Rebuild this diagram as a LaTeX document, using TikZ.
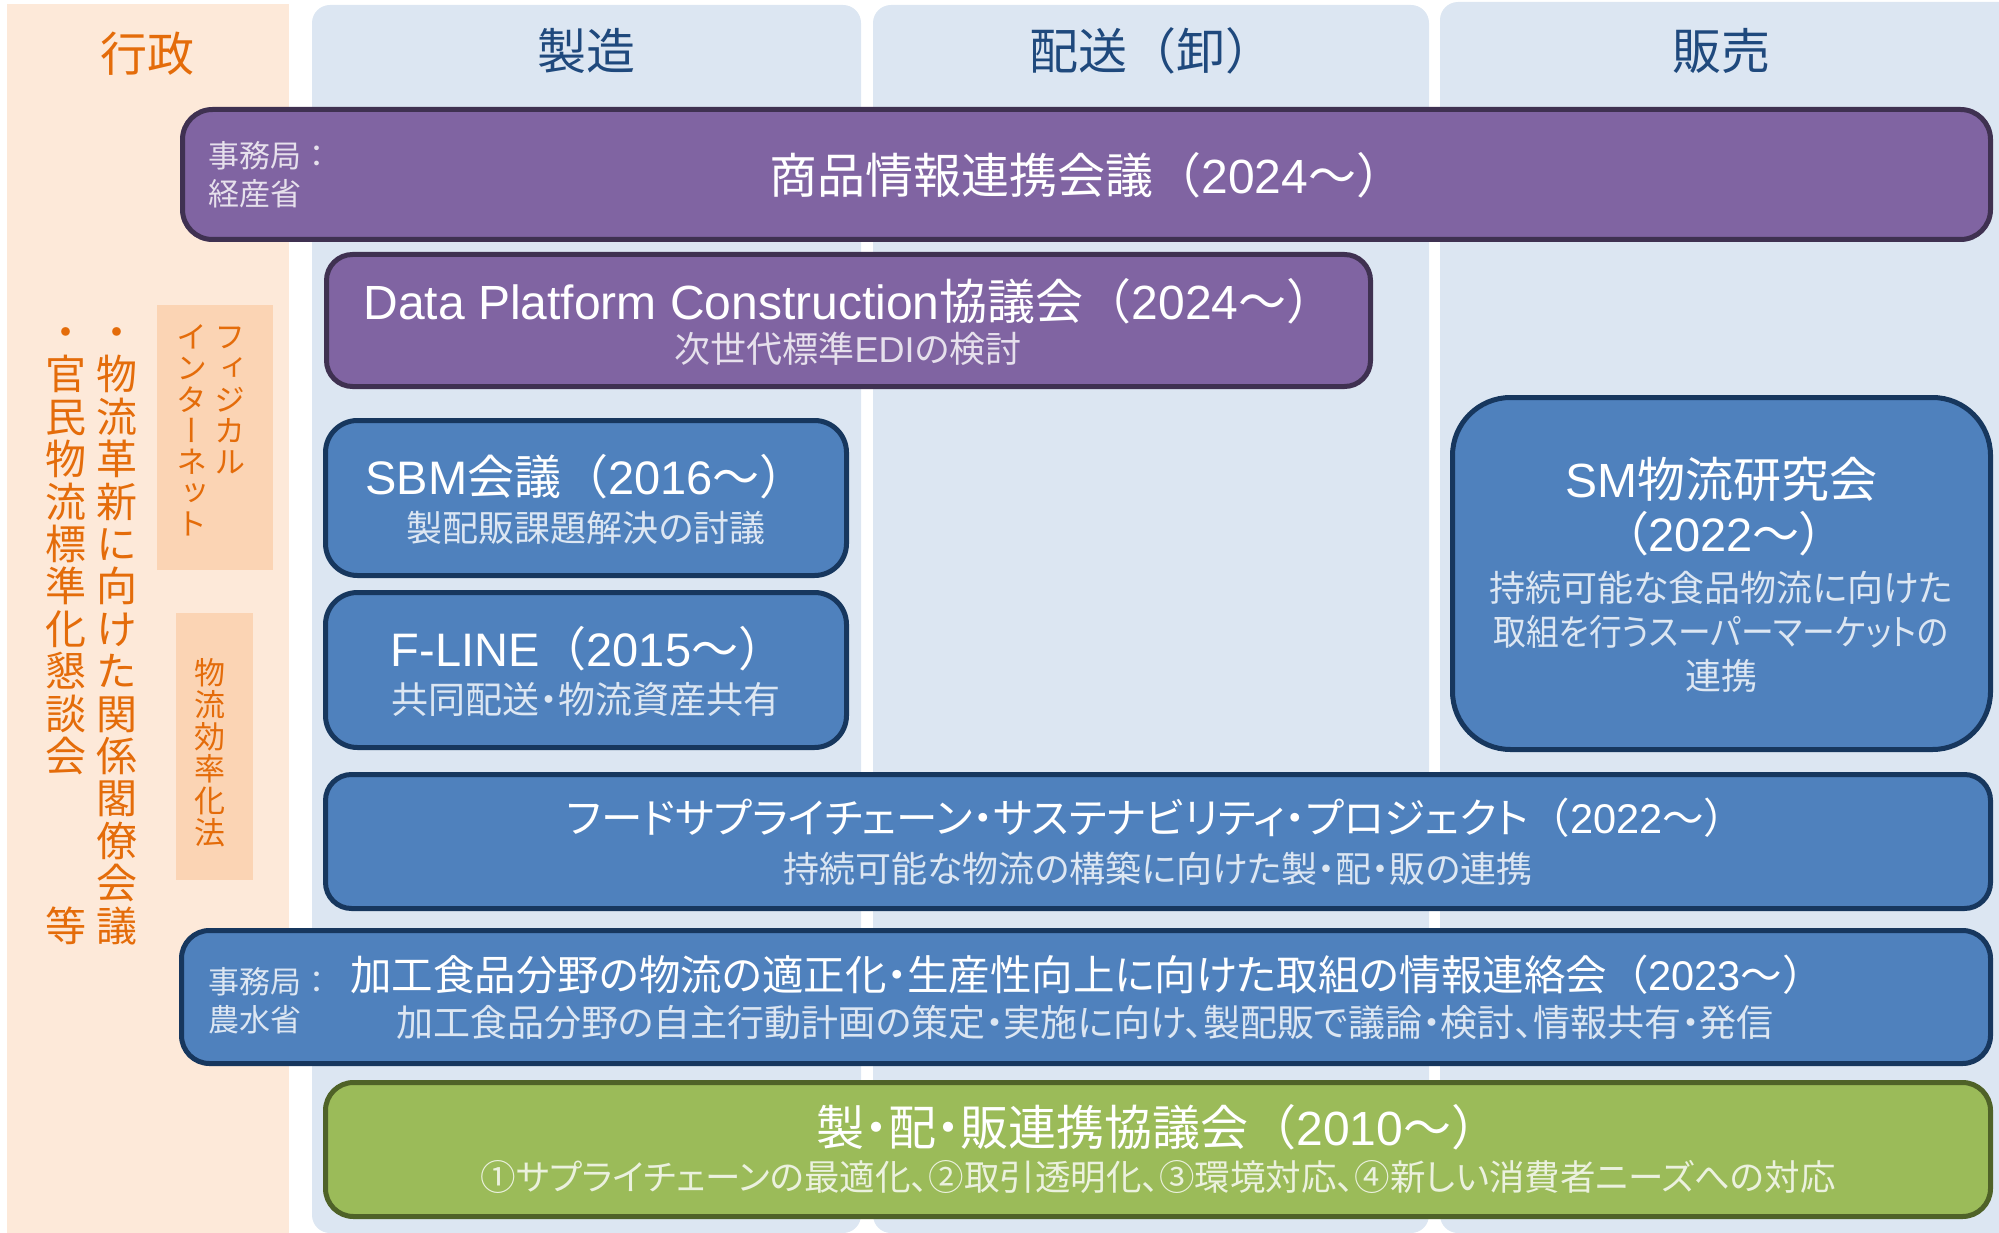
\documentclass[tikz,border=0pt]{standalone}
\usepackage{fontspec}
\usepackage{graphicx}
\setmainfont[RawFeature=+palt]{Noto Sans CJK JP}
\newfontfamily\cjkn{Noto Sans CJK JP}
\newfontfamily\cjkv[RawFeature=+vert]{Noto Sans CJK JP}
\newfontfamily\lat{Liberation Sans}
\newcommand\yrs[1]{{\cjkn （{\lat #1}～）}}
\newcommand\cjkstrut{\rule[-0.12em]{0pt}{1em}}
\definecolor{admbg}{HTML}{FDE9D9}
\definecolor{admbox}{HTML}{FBD4B4}
\definecolor{admtxt}{HTML}{E46C0A}
\definecolor{colbg}{HTML}{DCE6F2}
\definecolor{hdrtxt}{HTML}{1F497D}
\definecolor{purfill}{HTML}{8064A2}
\definecolor{purline}{HTML}{3F3151}
\definecolor{bluefill}{HTML}{4F81BD}
\definecolor{blueline}{HTML}{17375E}
\definecolor{grnfill}{HTML}{9BBB59}
\definecolor{grnline}{HTML}{4F6228}
\definecolor{pursub}{HTML}{E6E0EC}
\definecolor{bluesub}{HTML}{DCE6F2}
\definecolor{grnsub}{HTML}{EBF1DE}
\begin{document}
\begin{tikzpicture}[x=1pt,y=-1pt,
  evt/.style={draw, line width=5pt, inner sep=0pt},
  pur/.style={evt, fill=purfill, draw=purline},
  blu/.style={evt, fill=bluefill, draw=blueline},
  grn/.style={evt, fill=grnfill, draw=grnline},
  txt/.style={inner sep=0pt, execute at begin node=\cjkstrut},
  ttl/.style={txt, text=white, font=\fontsize{48}{52}\selectfont},
  sub/.style={txt, font=\fontsize{36}{40}\selectfont},
  adm/.style={txt, anchor=west, font=\cjkn\fontsize{31}{34}\selectfont},
  hdr/.style={txt, text=hdrtxt, font=\fontsize{49}{52}\selectfont},
  vbig/.style={txt, text=admtxt, font=\cjkv\fontsize{41}{44}\selectfont},
  vsmall/.style={txt, text=admtxt, font=\cjkv\fontsize{31}{34}\selectfont},
  colpanel/.style={fill=colbg, rounded corners=18pt},
]
\useasboundingbox (0,0) rectangle (1999,1233);
% backgrounds
\fill[admbg] (7,4) rectangle (289,1233);
\fill[colpanel] (312,5) rectangle (861,1233);
\fill[colpanel] (873,5) rectangle (1429,1233);
\fill[colpanel] (1440,2) rectangle (2020,1233);
\fill[admbox] (157,305) rectangle (273,570);
\fill[admbox] (176,613) rectangle (253,880);
% headers
\node[hdr, text=admtxt, font=\fontsize{47}{50}\selectfont] (h0) at (147,54) {行政};
\node[hdr] (h1) at (586,51) {製造};
\node[hdr] (h2) at (1152,51) {配送{\cjkn （}卸{\cjkn ）}};
\node[hdr] (h3) at (1721,51) {販売};
% vertical texts
\foreach \c [count=\i from 0] in {・,物,流,革,新,に,向,け,た,関,係,閣,僚,会,議}
  \node[vbig] (va-\i) at (117,332+\i*42.4) {\c};
\foreach \c [count=\i from 0] in {・,官,民,物,流,標,準,化,懇,談,会}
  \node[vbig] (vb-\i) at (66,332+\i*42.4) {\c};
\node[vbig] (vb-14) at (66,332+14*42.4) {等};
\foreach \c [count=\i from 0] in {フ,ィ,ジ,カ,ル}
  \node[vsmall] (vc-\i) at (230,337+\i*31.2) {\c};
\foreach \c [count=\i from 0] in {イ,ン,タ,ー,ネ,ッ,ト}
  \node[vsmall] (vd-\i) at (192,337+\i*31.2) {\c};
\foreach \c [count=\i from 0] in {物,流,効,率,化,法}
  \node[vsmall] (ve-\i) at (210,673+\i*32) {\c};
% boxes
\node[pur, rounded corners=30pt, minimum width=1808pt, minimum height=130pt] (b1) at (1086.5,174.5) {};
\node[pur, rounded corners=26pt, minimum width=1044pt, minimum height=132pt] (b2) at (848.5,320.5) {};
\node[blu, rounded corners=32pt, minimum width=521pt, minimum height=155pt] (b3) at (586,498) {};
\node[blu, rounded corners=32pt, minimum width=521pt, minimum height=155pt] (b4) at (586,670) {};
\node[blu, rounded corners=58pt, minimum width=538pt, minimum height=352pt] (b5) at (1721.5,573.5) {};
\node[blu, rounded corners=26pt, minimum width=1665pt, minimum height=134pt] (b6) at (1158,841.5) {};
\node[blu, rounded corners=28pt, minimum width=1809pt, minimum height=133pt] (b7) at (1086,997) {};
\node[grn, rounded corners=28pt, minimum width=1665pt, minimum height=134pt] (b8) at (1158,1149.5) {};
% box texts
\node[adm, text=pursub] (b1a) at (208,156) {事務局：};
\node[adm, text=pursub] (b1b) at (208,194) {経産省};
\node[ttl] (b1t) at (1087,175) {商品情報連携会議\yrs{2024}};
\node[ttl] (b2t) at (849,301) {{\lat Data Platform Construction}協議会\yrs{2024}};
\node[sub, text=pursub] (b2s) at (848,349) {次世代標準{\lat EDI}の検討};
\node[ttl, font=\fontsize{47}{52}\selectfont] (b3t) at (586,477) {{\lat SBM}会議\yrs{2016}};
\node[sub, text=bluesub] (b3s) at (586,528) {製配販課題解決の討議};
\node[ttl, font=\fontsize{47}{52}\selectfont] (b4t) at (588,649) {{\lat F-LINE}\yrs{2015}};
\node[sub, text=bluesub, font=\fontsize{37}{40}\selectfont] (b4s) at (586,699) {共同配送・物流資産共有};
\node[ttl] (b5t) at (1721,479) {{\lat SM}物流研究会};
\node[ttl, font=\fontsize{47}{52}\selectfont] (b5y) at (1724,534) {（{\lat 2022}～）};
\node[sub, text=bluesub] (b5s1) at (1721,588) {持続可能な食品物流に向けた};
\node[sub, text=bluesub] (b5s2) at (1721,632) {\scalebox{0.91}[1]{取組を行うスーパーマーケットの}};
\node[sub, text=bluesub] (b5s3) at (1721,676) {連携};
\node[ttl, font=\fontsize{41.5}{46}\selectfont] (b6t) at (1156,818) {フードサプライチェーン・サステナビリティ・プロジェクト\yrs{2022}};
\node[sub, text=bluesub] (b6s) at (1158,869) {持続可能な物流の構築に向けた製・配・販の連携};
\node[adm, text=bluesub] (b7a) at (208,982) {事務局：};
\node[adm, text=bluesub] (b7b) at (208,1020) {農水省};
\node[ttl, font=\fontsize{41.5}{46}\selectfont] (b7t) at (1087,975) {加工食品分野の物流の適正化・生産性向上に向けた取組の情報連絡会\yrs{2023}};
\node[sub, text=bluesub, font=\fontsize{37}{40}\selectfont] (b7s) at (1085,1022) {加工食品分野の自主行動計画の策定・実施に向け、製配販で議論・検討、情報共有・発信};
\node[ttl, font=\fontsize{48}{52}\selectfont] (b8t) at (1158,1127) {製・配・販連携協議会\yrs{2010}};
\node[sub, text=grnsub, font=\fontsize{35.5}{40}\selectfont] (b8s) at (1158,1177) {①サプライチェーンの最適化、②取引透明化、③環境対応、④新しい消費者ニーズへの対応};
\end{tikzpicture}
\end{document}
